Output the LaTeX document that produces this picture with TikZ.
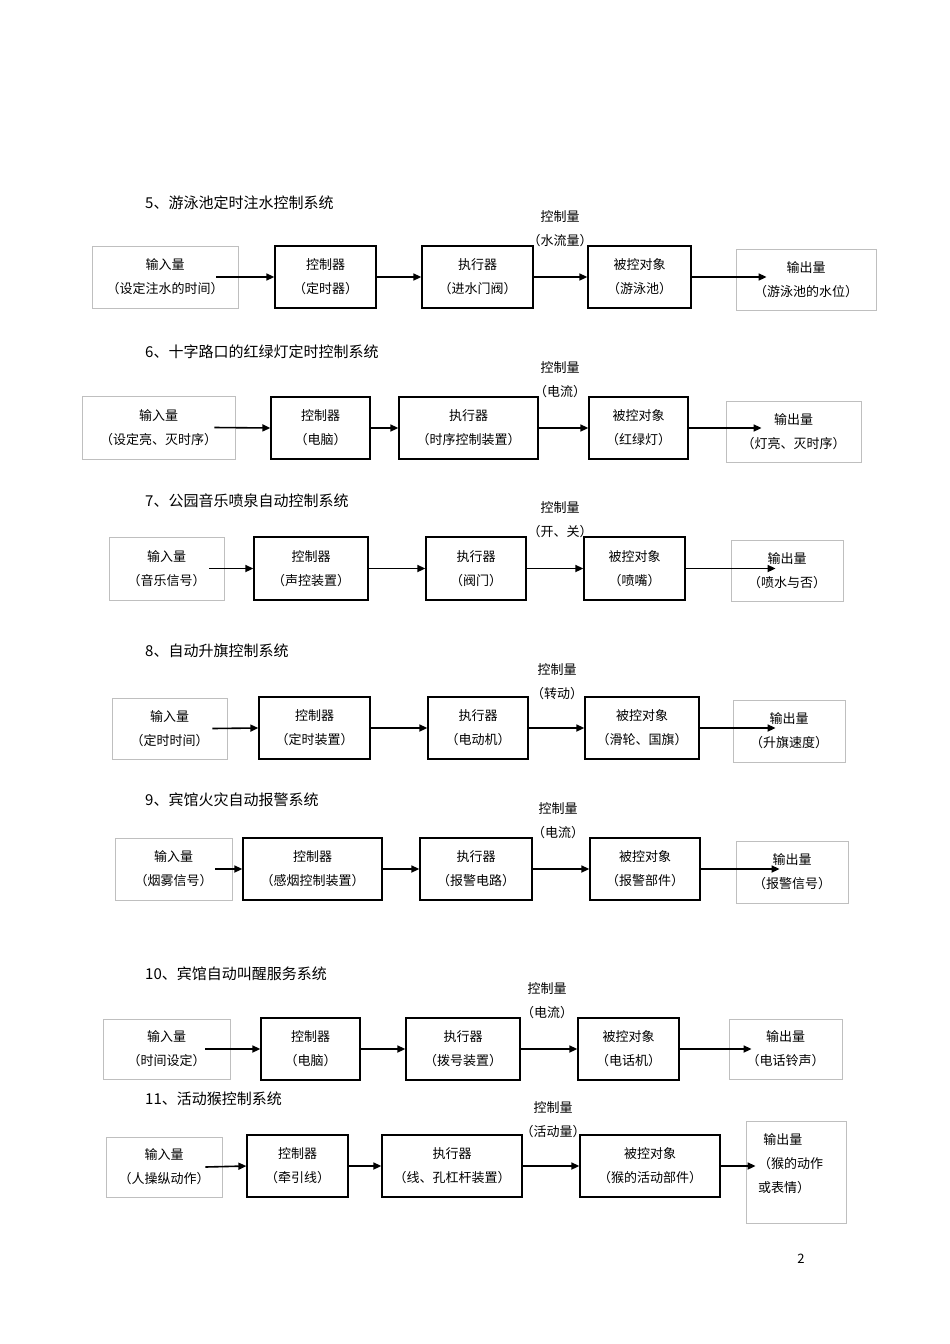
\documentclass[tikz,border=0pt]{standalone}
\usepackage{fontspec}
\setmainfont{Noto Sans CJK SC}
\usetikzlibrary{arrows.meta}
\newcommand\bx[7]{\node[#6,minimum width={#4-#2},minimum height={#5-#3}] (#1) at ({(#2+#4)/2},{(#3+#5)/2}) {#7};}
\begin{document}
\begin{tikzpicture}[x=1pt,y=-1pt,
  base/.style={draw,inner sep=0,align=center,font=\fontsize{13}{24}\selectfont},
  box/.style={base,line width=1.3pt},
  io/.style={base,draw=black!25,line width=0.8pt},
  arr/.style={-{Triangle[length=8pt,width=7pt]},line width=1.6pt},
  lbl/.style={inner sep=0,font=\fontsize{13}{16}\selectfont},
  ttl/.style={inner sep=0,anchor=west,font=\fontsize{15}{18}\selectfont}]
\useasboundingbox (0,0) rectangle (950,1344);
% Row 5
\node[ttl] (t5) at (145,203) {5、游泳池定时注水控制系统};
\node[lbl] (k5a) at (560,217) {控制量};
\node[lbl] (k5b) at (560,241) {（水流量）};
\bx{i5}{92}{246}{238}{308}{io}{输入量\\（设定注水的时间）}
\bx{c5}{275}{246}{376}{308}{box}{控制器\\（定时器）}
\bx{e5}{422}{246}{533}{308}{box}{执行器\\（进水门阀）}
\bx{o5}{588}{246}{691}{308}{box}{被控对象\\（游泳池）}
\bx{u5}{736}{249}{876}{310}{io}{输出量\\（游泳池的水位）}
\draw[arr] ([xshift=-22pt]i5.east) -- (c5.west);
\draw[arr] (c5) -- (e5); \draw[arr] (e5) -- (o5);
\draw[arr] (o5.east) -- ([xshift=31pt]u5.west|-o5.east);
% Row 6
\node[ttl] (t6) at (145,352) {6、十字路口的红绿灯定时控制系统};
\node[lbl] (k6a) at (560,368) {控制量};
\node[lbl] (k6b) at (560,392) {（电流）};
\bx{i6}{82}{396}{235}{459}{io}{输入量\\（设定亮、灭时序）}
\bx{c6}{271}{397}{370}{459}{box}{控制器\\（电脑）}
\bx{e6}{399}{397}{538}{459}{box}{执行器\\（时序控制装置）}
\bx{o6}{589}{397}{688}{459}{box}{被控对象\\（红绿灯）}
\bx{u6}{726}{401}{861}{462}{io}{输出量\\（灯亮、灭时序）}
\draw[arr] ([xshift=-21pt]i6.east) -- (c6.west);
\draw[arr] (c6) -- (e6); \draw[arr] (e6) -- (o6);
\draw[arr] (o6.east) -- ([xshift=36pt]u6.west|-o6.east);
% Row 7
\node[ttl] (t7) at (145,501) {7、公园音乐喷泉自动控制系统};
\node[lbl] (k7a) at (560,508) {控制量};
\node[lbl] (k7b) at (560,532) {（开、关）};
\bx{i7}{109}{537}{224}{600}{io}{输入量\\（音乐信号）}
\bx{c7}{254}{537}{368}{600}{box}{控制器\\（声控装置）}
\bx{e7}{426}{537}{526}{600}{box}{执行器\\（阀门）}
\bx{o7}{584}{537}{685}{600}{box}{被控对象\\（喷嘴）}
\bx{u7}{731}{540}{843}{601}{io}{输出量\\（喷水与否）}
\draw[arr] ([xshift=-15pt]i7.east) -- (c7.west);
\draw[arr] (c7) -- (e7); \draw[arr] (e7) -- (o7);
\draw[arr] (o7.east) -- ([xshift=45pt]u7.west|-o7.east);
% Row 8
\node[ttl] (t8) at (145,651) {8、自动升旗控制系统};
\node[lbl] (k8a) at (557,670) {控制量};
\node[lbl] (k8b) at (557,694) {（转动）};
\bx{i8}{112}{698}{227}{759}{io}{输入量\\（定时时间）}
\bx{c8}{259}{697}{370}{759}{box}{控制器\\（定时装置）}
\bx{e8}{428}{697}{528}{759}{box}{执行器\\（电动机）}
\bx{o8}{585}{697}{699}{759}{box}{被控对象\\（滑轮、国旗）}
\bx{u8}{733}{700}{845}{762}{io}{输出量\\（升旗速度）}
\draw[arr] ([xshift=-15pt]i8.east) -- (c8.west);
\draw[arr] (c8) -- (e8); \draw[arr] (e8) -- (o8);
\draw[arr] (o8.east) -- ([xshift=43pt]u8.west|-o8.east);
% Row 9
\node[ttl] (t9) at (145,800) {9、宾馆火灾自动报警系统};
\node[lbl] (k9a) at (558,809) {控制量};
\node[lbl] (k9b) at (558,833) {（电流）};
\bx{i9}{115}{838}{232}{900}{io}{输入量\\（烟雾信号）}
\bx{c9}{243}{838}{382}{900}{box}{控制器\\（感烟控制装置）}
\bx{e9}{420}{838}{532}{900}{box}{执行器\\（报警电路）}
\bx{o9}{590}{838}{700}{900}{box}{被控对象\\（报警部件）}
\bx{u9}{736}{841}{848}{903}{io}{输出量\\（报警信号）}
\draw[arr] ([xshift=-17pt]i9.east) -- (c9.west);
\draw[arr] (c9) -- (e9); \draw[arr] (e9) -- (o9);
\draw[arr] (o9.east) -- ([xshift=44pt]u9.west|-o9.east);
% Row 10
\node[ttl] (t10) at (145,974) {10、宾馆自动叫醒服务系统};
\node[lbl] (k10a) at (547,989) {控制量};
\node[lbl] (k10b) at (547,1013) {（电流）};
\bx{i10}{103}{1019}{230}{1079}{io}{输入量\\（时间设定）}
\bx{c10}{261}{1018}{360}{1080}{box}{控制器\\（电脑）}
\bx{e10}{406}{1018}{520}{1080}{box}{执行器\\（拨号装置）}
\bx{o10}{578}{1018}{679}{1080}{box}{被控对象\\（电话机）}
\bx{u10}{729}{1019}{842}{1079}{io}{输出量\\（电话铃声）}
\draw[arr] ([xshift=-25pt]i10.east) -- (c10.west);
\draw[arr] (c10) -- (e10); \draw[arr] (e10) -- (o10);
\draw[arr] (o10.east) -- ([xshift=23pt]u10.west|-o10.east);
% Row 11
\node[ttl] (t11) at (145,1099) {11、活动猴控制系统};
\node[lbl] (k11a) at (553,1108) {控制量};
\node[lbl] (k11b) at (553,1132) {（活动量）};
\bx{i11}{106}{1137}{222}{1197}{io}{输入量\\（人操纵动作）}
\bx{c11}{247}{1135}{348}{1197}{box}{控制器\\（牵引线）}
\bx{e11}{382}{1135}{522}{1197}{box}{执行器\\（线、孔杠杆装置）}
\bx{o11}{580}{1135}{720}{1197}{box}{被控对象\\（猴的活动部件）}
\bx{u11}{746}{1121}{846}{1223}{io}{}
\node[inner sep=0,anchor=north west,align=left,font=\fontsize{13}{24}\selectfont] (u11t) at (758,1133) {\ \,输出量\\（猴的动作\\或表情）};
\draw[arr] ([xshift=-17pt]i11.east) -- (c11.west);
\draw[arr] (c11) -- (e11); \draw[arr] (e11) -- (o11);
\draw[arr] (o11.east) -- ([xshift=10pt]u11.west|-o11.east);
\node[lbl] (pg) at (801,1259) {2};
\end{tikzpicture}
\end{document}
